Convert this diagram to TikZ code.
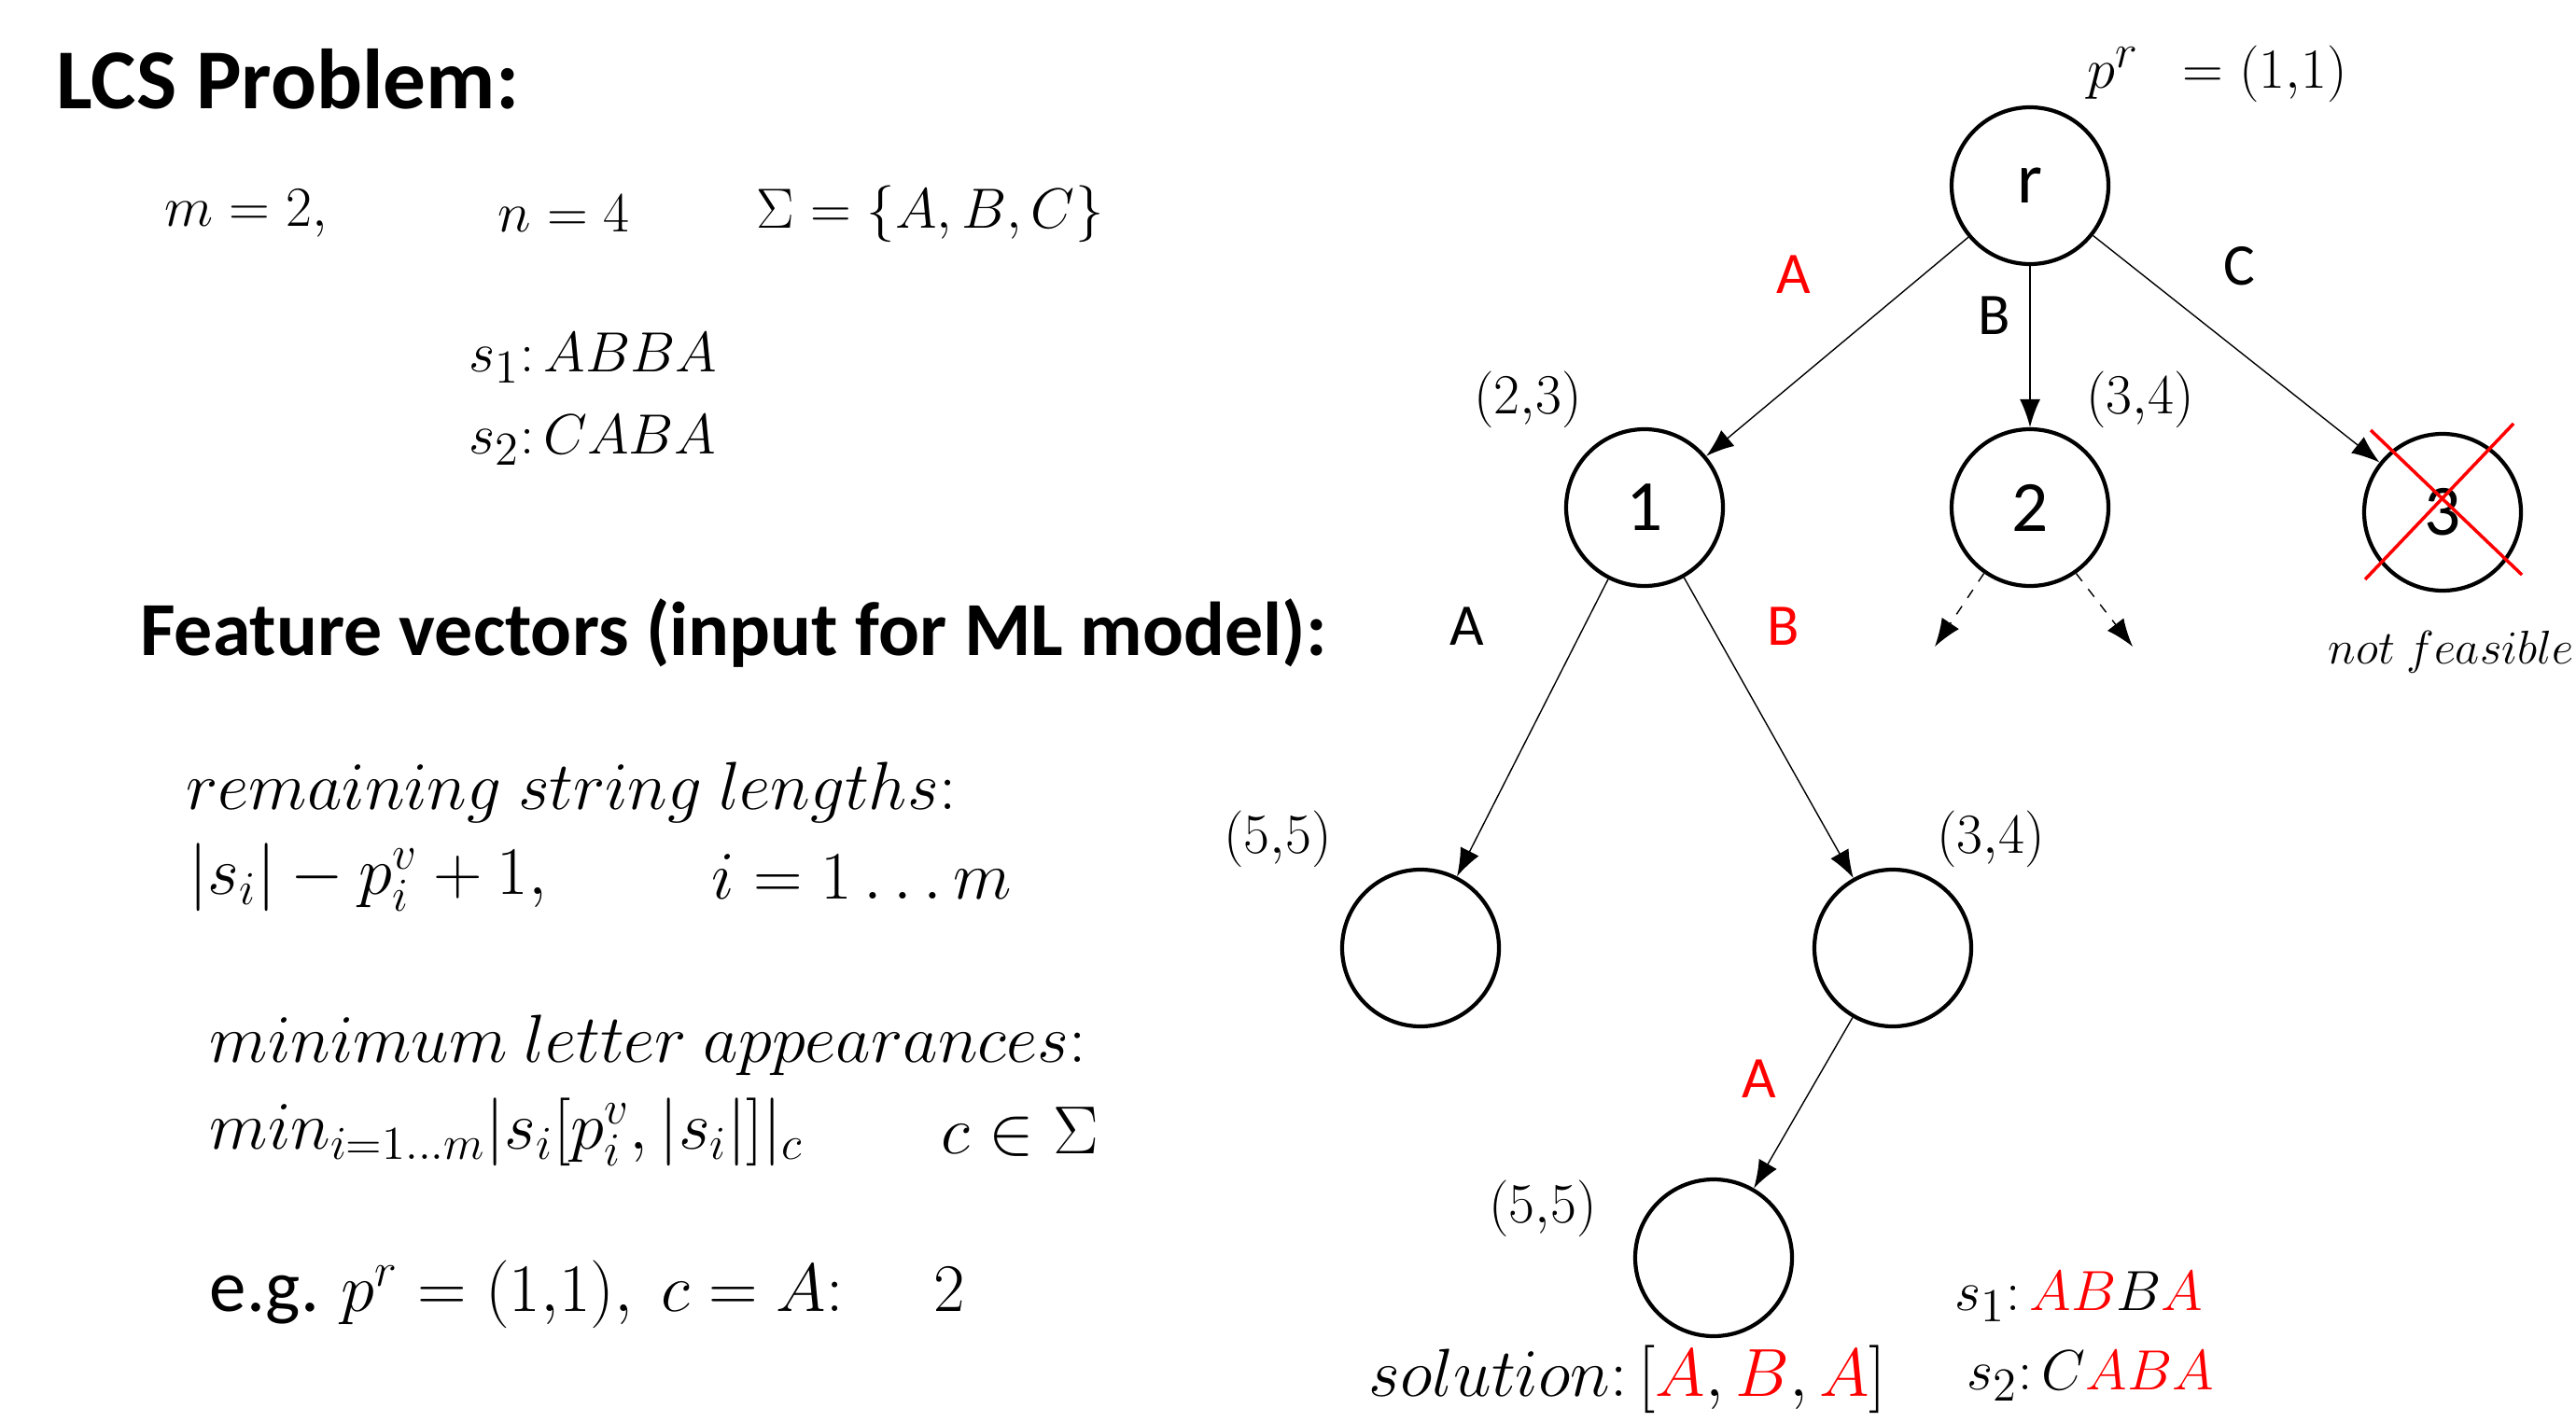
\documentclass[tikz,border=0pt]{standalone}
\usepackage{fontspec}
\setmainfont{Carlito}
\usetikzlibrary{arrows.meta}
\tikzset{
  tnode/.style={circle, draw, line width=1.2pt, minimum size=1.68cm, inner sep=0pt, font=\fontsize{22}{26}\selectfont},
  elabel/.style={font=\fontsize{18}{22}\selectfont},
  poslabel/.style={font=\fontsize{16.5}{20}\selectfont},
  mtext/.style={anchor=west, inner sep=0pt, font=\fontsize{19}{23}\selectfont},
  ftext/.style={anchor=west, inner sep=0pt, font=\fontsize{22.5}{27}\selectfont},
  heading/.style={anchor=west, font=\fontsize{26}{31}\selectfont\bfseries},
}
\begin{document}
\begin{tikzpicture}[>={Latex[length=3mm,width=2.2mm]}]
\useasboundingbox (0,0) rectangle (27.6,15.23);
% left: problem and features
\node[heading] (lcs) at (0.48,14.38) {LCS Problem:};
\node[mtext] (m) at (1.76,12.94) {$m=2,$};
\node[mtext] (n) at (5.33,12.94) {$n=4$};
\node[mtext] (sigma) at (8.10,12.94) {$\Sigma=\{A,B,C\}$};
\node[mtext] (s1) at (5.02,11.39) {$s_1{:}\,ABBA$};
\node[mtext] (s2) at (5.02,10.51) {$s_2{:}\,CABA$};
\node[heading, font=\fontsize{23.3}{28}\selectfont\bfseries] (feat) at (1.38,8.44) {Feature vectors (input for ML model):};
\node[ftext] (rem) at (1.99,6.74) {$remaining\ string\ lengths{:}$};
\node[ftext] (remf) at (2.02,5.83) {$|s_i|-p_i^v+1,$};
\node[ftext] (remi) at (7.62,5.83) {$i=1\ldots m$};
\node[ftext] (mina) at (2.24,4.03) {$minimum\ letter\ appearances{:}$};
\node[ftext] (minf) at (2.24,3.10) {$min_{i=1\ldots m}|s_i[p_i^v,|s_i|]|_c$};
\node[ftext] (minc) at (10.08,3.10) {$c\in\Sigma$};
\node[ftext] (eg) at (2.24,1.36) {e.g. $p^r=(1{,}1),\ c=A{:}\quad\ 2$};
% tree
\node[tnode] (r) at (21.75,13.24) {r};
\node[tnode] (n1) at (17.62,9.79) {1};
\node[tnode] (n2) at (21.75,9.79) {2};
\node[tnode] (n3) at (26.17,9.74) {3};
\node[tnode] (n4) at (15.22,5.07) {};
\node[tnode] (n5) at (20.28,5.07) {};
\node[tnode] (n6) at (18.36,1.75) {};
\draw[->] (r) -- (n1);
\draw[->] (r) -- (n2);
\draw[->] (r) -- (n3);
\draw[->] (n1) -- (n4);
\draw[->] (n1) -- (n5);
\draw[->] (n5) -- (n6);
\coordinate (d1) at (20.73,8.30);
\coordinate (d2) at (22.85,8.30);
\draw[->, dashed] (n2.235) -- (d1);
\draw[->, dashed] (n2.305) -- (d2);
\draw[red, line width=1pt] (25.40,10.62) -- (27.02,9.07);
\draw[red, line width=1pt] (26.93,10.69) -- (25.34,9.02);
% labels
\node[poslabel, anchor=west, font=\fontsize{19}{23}\selectfont] (pr) at (22.24,14.44) {$p^r\ \ =(1{,}1)$};
\node[elabel, red] (la) at (19.22,12.29) {A};
\node[elabel] (lb) at (21.37,11.85) {B};
\node[elabel] (lc) at (23.99,12.38) {C};
\node[poslabel] (p1) at (16.37,10.95) {$(2{,}3)$};
\node[poslabel] (p2) at (22.93,10.95) {$(3{,}4)$};
\node[elabel] (la2) at (15.72,8.52) {A};
\node[elabel, red] (lb2) at (19.11,8.52) {B};
\node[poslabel] (p4) at (13.69,6.24) {$(5{,}5)$};
\node[poslabel] (p5) at (21.33,6.24) {$(3{,}4)$};
\node[elabel, red] (la3) at (18.85,3.67) {A};
\node[poslabel] (p6) at (16.53,2.28) {$(5{,}5)$};
\node[poslabel, anchor=east, inner sep=0pt, font=\fontsize{15.5}{19}\selectfont] (nf) at (27.58,8.24) {$not\ feasible$};
\node[mtext, anchor=center, font=\fontsize{21.8}{26}\selectfont] (sol) at (17.44,0.45) {$solution{:}\,[\textcolor{red}{A},\textcolor{red}{B},\textcolor{red}{A}]$};
\node[mtext] (rs1) at (20.94,1.33) {$s_1{:}\,\textcolor{red}{AB}B\textcolor{red}{A}$};
\node[mtext] (rs2) at (21.07,0.48) {$s_2{:}\,C\textcolor{red}{ABA}$};
\end{tikzpicture}
\end{document}
